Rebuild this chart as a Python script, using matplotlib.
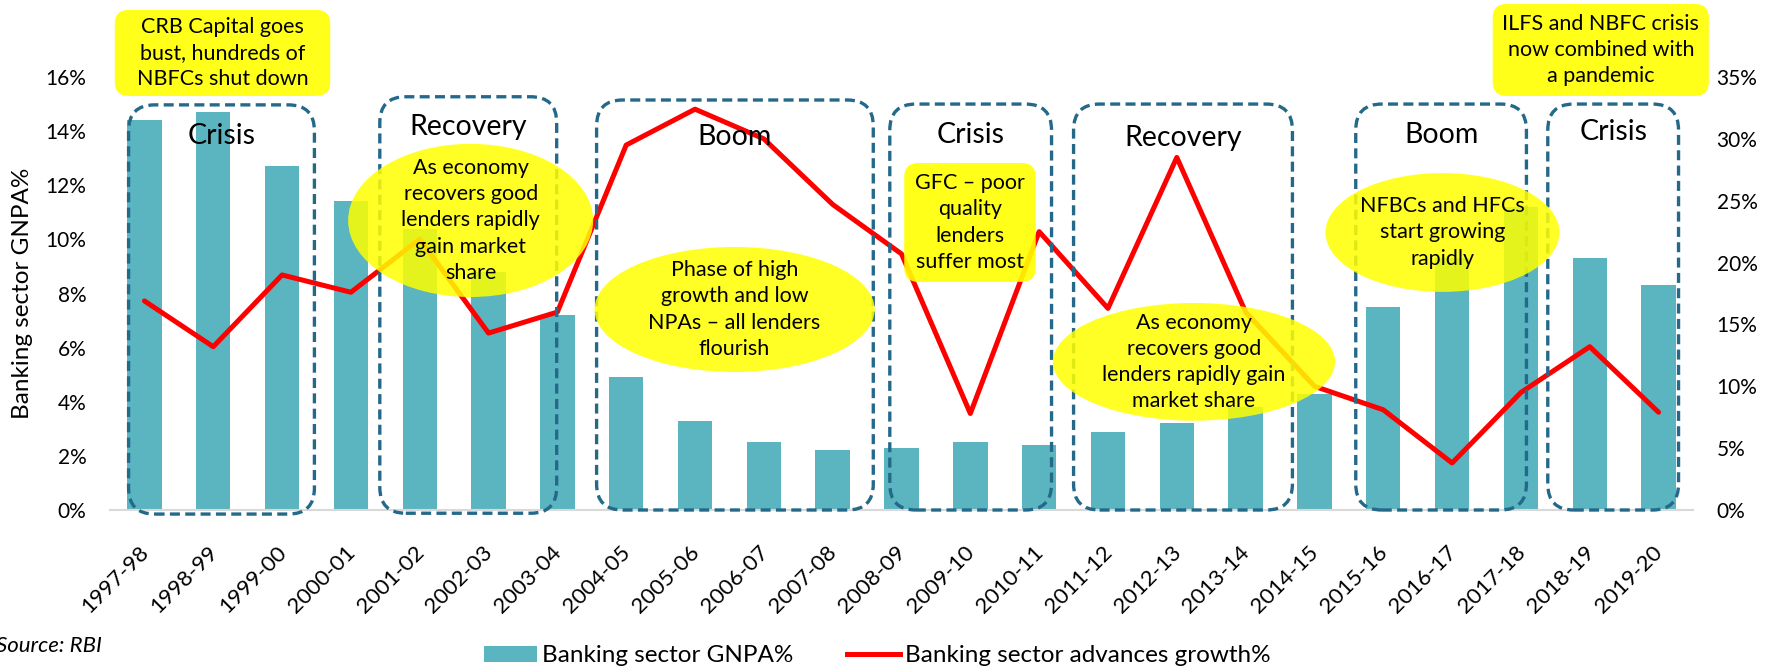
import numpy as np
import matplotlib
matplotlib.use("Agg")
import matplotlib.pyplot as plt
import matplotlib.transforms as mtransforms
from matplotlib.patches import FancyBboxPatch, Ellipse, Patch
from matplotlib.lines import Line2D
from matplotlib.ticker import FuncFormatter, MultipleLocator

plt.rcParams['font.family'] = ['Lato', 'DejaVu Sans']

# ---------------- data ----------------
years = ['1997-98', '1998-99', '1999-00', '2000-01', '2001-02', '2002-03', '2003-04',
         '2004-05', '2005-06', '2006-07', '2007-08', '2008-09', '2009-10', '2010-11',
         '2011-12', '2012-13', '2013-14', '2014-15', '2015-16', '2016-17', '2017-18',
         '2018-19', '2019-20']
gnpa = [14.4, 14.7, 12.7, 11.4, 10.4, 8.8, 7.2, 4.9, 3.3, 2.5, 2.2, 2.3, 2.5, 2.4,
        2.9, 3.2, 3.8, 4.3, 7.5, 9.3, 11.2, 9.3, 8.3]
growth = [16.9, 13.2, 19.0, 17.6, 21.9, 14.3, 16.0, 29.5, 32.4, 30.0, 24.7, 20.7, 7.8,
          22.5, 16.3, 28.5, 16.0, 10.0, 8.1, 3.8, 9.5, 13.2, 7.9]
bar_label = 'Banking sector GNPA%'
line_label = 'Banking sector advances growth%'

# phase boxes (category-index edges, GNPA% top/bottom)
phase_labels = ['Crisis', 'Recovery', 'Boom', 'Crisis', 'Recovery', 'Boom', 'Crisis']
phase_left = [-0.23, 3.42, 6.57, 10.83, 13.50, 17.60, 20.39]
phase_right = [2.47, 5.99, 10.59, 13.18, 16.68, 20.08, 22.29]
phase_top = [14.97, 15.27, 15.15, 15.0, 15.0, 15.0, 15.0]
phase_bottom = [-0.15, -0.12, 0, 0, 0, 0, 0]
phase_text_y = [13.53, 13.86, 13.49, 13.57, 13.46, 13.55, 13.67]

# callouts: text, shape, x-range (category index), y-range (GNPA%)
callout_texts = [
    "CRB Capital goes\nbust, hundreds of\nNBFCs shut down",
    "ILFS and NBFC crisis\nnow combined with\na pandemic",
    "As economy\nrecovers good\nlenders rapidly\ngain market\nshare",
    "Phase of high\ngrowth and low\nNPAs \u2013 all lenders\nflourish",
    "GFC \u2013 poor\nquality\nlenders\nsuffer most",
    "As economy\nrecovers good\nlenders rapidly gain\nmarket share",
    "NFBCs and HFCs\nstart growing\nrapidly",
]
callout_shape = ['rect', 'rect', 'ellipse', 'ellipse', 'rect', 'ellipse', 'ellipse']
callout_x0 = [-0.43, 19.59, 2.96, 6.54, 11.04, 13.20, 17.16]
callout_x1 = [2.70, 22.73, 6.52, 10.61, 12.95, 17.30, 20.56]
callout_y0 = [15.30, 15.30, 7.87, 5.10, 8.43, 3.30, 8.06]
callout_y1 = [18.48, 18.70, 13.53, 9.72, 12.82, 7.65, 12.45]

# ---------------- styles ----------------
BAR_C = '#5AB5C1'
LINE_C = '#FF0000'
BOX_C = '#25698A'
YEL = '#FFFF00'

W, H = 1772, 668
fig = plt.figure(figsize=(W / 100, H / 100), dpi=100)
ax_l, ax_b, ax_w, ax_h = 110 / W, (H - 510) / H, 1583 / W, 433 / H
ax = fig.add_axes([ax_l, ax_b, ax_w, ax_h])
ax2 = ax.twinx()

x = np.arange(len(years))
ax.bar(x, gnpa, width=0.5, color=BAR_C, zorder=2)
ax2.plot(x, growth, color=LINE_C, lw=3.6, solid_joinstyle='round',
         solid_capstyle='round', zorder=2)

ax.set_xlim(-0.5, len(years) - 0.5)
ax.set_ylim(0, 16)
ax2.set_ylim(0, 35)
ax.yaxis.set_major_locator(MultipleLocator(2))
ax2.yaxis.set_major_locator(MultipleLocator(5))
pct = FuncFormatter(lambda v, p: f"{v:.0f}%")
ax.yaxis.set_major_formatter(pct)
ax2.yaxis.set_major_formatter(pct)

for a in (ax, ax2):
    for s in a.spines.values():
        s.set_visible(False)
ax.spines['bottom'].set_visible(True)
ax.spines['bottom'].set_color('#D9D9D9')
ax.spines['bottom'].set_linewidth(1.5)

ax.tick_params(axis='y', length=0, pad=17, labelsize=15)
ax2.tick_params(axis='y', length=0, pad=17, labelsize=15)
ax.tick_params(axis='x', length=0, pad=23, labelsize=16)
ax.set_xticks(x)
ax.set_xticklabels(years, rotation=45, ha='right', rotation_mode='anchor')
off = mtransforms.ScaledTranslation(-6 / 100, 0, fig.dpi_scale_trans)
for lab in ax.get_xticklabels():
    lab.set_transform(lab.get_transform() + off)

ax.set_ylabel('Banking sector GNPA%', fontsize=17.5)
ax.yaxis.set_label_coords((33 - 110) / 1583, 0.5)

# pixel scales for round corners
px_x = W * ax_w / len(years)
px_y = H * ax_h / 16.0
aspect = px_x / px_y

# phase boxes
for lab, l, r, t, b, ty in zip(phase_labels, phase_left, phase_right, phase_top,
                               phase_bottom, phase_text_y):
    p = FancyBboxPatch((l, b), r - l, t - b,
                       boxstyle=f"round,pad=0,rounding_size={26 / px_x}",
                       mutation_aspect=aspect, transform=ax.transData,
                       fill=False, edgecolor=BOX_C, lw=2.4,
                       linestyle=(0, (3, 1.6)), zorder=3, clip_on=False)
    ax2.add_patch(p)
    ax2.text((l + r) / 2, ty, lab, transform=ax.transData, ha='center',
             va='baseline', fontsize=20.5, color='black', zorder=6)

# callouts
for txt, shp, x0, x1, y0, y1 in zip(callout_texts, callout_shape, callout_x0,
                                    callout_x1, callout_y0, callout_y1):
    if shp == 'rect':
        p = FancyBboxPatch((x0, y0), x1 - x0, y1 - y0,
                           boxstyle=f"round,pad=0,rounding_size={14 / px_x}",
                           mutation_aspect=aspect, transform=ax.transData,
                           facecolor=YEL, edgecolor='none', alpha=0.9,
                           zorder=4, clip_on=False)
    else:
        p = Ellipse(((x0 + x1) / 2, (y0 + y1) / 2), x1 - x0, y1 - y0,
                    transform=ax.transData, facecolor=YEL, edgecolor='none',
                    alpha=0.85, zorder=4, clip_on=False)
    ax2.add_patch(p)
    ax2.text((x0 + x1) / 2, (y0 + y1) / 2, txt, transform=ax.transData,
             ha='center', va='center', multialignment='center', fontsize=15.5,
             linespacing=1.38, color='black', zorder=6, clip_on=False)

# source
fig.text(-4 / W, (H - 652) / H, 'Source: RBI', fontsize=16, style='italic',
         ha='left', va='baseline')

# legend
handles = [Patch(facecolor=BAR_C, edgecolor='none', label=bar_label),
           Line2D([0], [0], color=LINE_C, lw=3.6, label=line_label)]
fig.legend(handles=handles, loc='center left', bbox_to_anchor=(484 / W, (H - 656) / H),
           ncol=2, frameon=False, fontsize=17.5, handlelength=2.2,
           handleheight=0.62, handletextpad=0.18, columnspacing=2.2,
           borderpad=0, borderaxespad=0)

fig.savefig('out.png', dpi=100)
